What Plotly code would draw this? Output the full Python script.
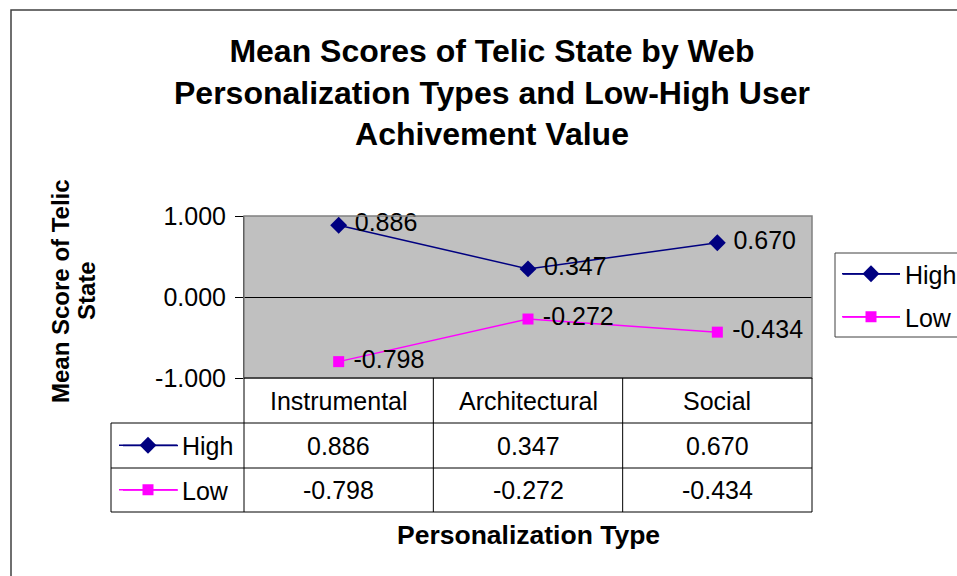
import plotly.graph_objects as go

# ---- data ----
categories = ["Instrumental", "Architectural", "Social"]
series_names = ["High", "Low"]
high_values = [0.886, 0.347, 0.670]
low_values = [-0.798, -0.272, -0.434]
y_tick_values = [-1.0, 0.0, 1.0]
y_tick_labels = ["-1.000", "0.000", "1.000"]
title_lines = ["Mean Scores of Telic State by Web",
               "Personalization Types and Low-High User",
               "Achivement Value"]
x_title = "Personalization Type"
y_title_lines = ["Mean Score of Telic", "State"]

W, H = 957, 576
FONT = "Liberation Sans, Arial, Helvetica, sans-serif"
TXT = 25


def px(x):
    return x / W


def py(y):
    return 1 - y / H


colors = {"High": "#000080", "Low": "#FF00FF"}
symbols = {"High": "diamond", "Low": "square"}
msize = {"High": 13, "Low": 11}
values = {"High": high_values, "Low": low_values}
legend_ids = {"High": ("legend", "legend3"), "Low": ("legend2", "legend4")}

# layout geometry (pixels)
PL, PR, PT, PB = 244, 812, 216, 378
ROW_Y = [423, 468, 512]
KEY_LEFT = 111
RIGHT_LEG_Y = {"High": 274, "Low": 317}
TABLE_ROW_CENTERS = [(PB + ROW_Y[0]) / 2, (ROW_Y[0] + ROW_Y[1]) / 2, (ROW_Y[1] + ROW_Y[2]) / 2]
TABLE_LEG_Y = {"High": TABLE_ROW_CENTERS[1], "Low": TABLE_ROW_CENTERS[2]}

fig = go.Figure()
for name in series_names:
    fig.add_trace(go.Scatter(
        x=categories, y=values[name], name=name,
        mode="lines+markers+text",
        line=dict(color=colors[name], width=1.5),
        marker=dict(symbol=symbols[name], size=msize[name], color=colors[name]),
        text=["\u00a0" + f"{v:.3f}" for v in values[name]],
        textposition="middle right",
        textfont=dict(family=FONT, size=TXT, color="black"),
        cliponaxis=False,
        legend=legend_ids[name][0],
        xaxis="x", yaxis="y",
    ))
for name in series_names:
    # legend keys shown inside the data table
    fig.add_trace(go.Scatter(
        x=[None], y=[None], name=name, mode="lines+markers",
        line=dict(color=colors[name], width=1.5),
        marker=dict(symbol=symbols[name], size=msize[name], color=colors[name]),
        legend=legend_ids[name][1],
    ))

shapes = []
# outer chart border
shapes.append(dict(type="rect", xref="paper", yref="paper",
                   x0=px(11), y0=py(10), x1=1.05, y1=-0.05,
                   line=dict(color="#404040", width=1.5)))
# plot area border
shapes.append(dict(type="rect", xref="paper", yref="paper",
                   x0=px(PL), x1=px(PR), y0=py(PT), y1=py(PB),
                   line=dict(color="#808080", width=1.5)))
# table grid
ncat = len(categories)
col_edges = [PL + (PR - PL) * i / ncat for i in range(ncat + 1)]
for cx in col_edges:
    shapes.append(dict(type="line", xref="paper", yref="paper",
                       x0=px(cx), x1=px(cx), y0=py(PB), y1=py(ROW_Y[-1]),
                       line=dict(color="black", width=1)))
shapes.append(dict(type="line", xref="paper", yref="paper",
                   x0=px(KEY_LEFT), x1=px(KEY_LEFT), y0=py(ROW_Y[0]), y1=py(ROW_Y[-1]),
                   line=dict(color="black", width=1)))
shapes.append(dict(type="line", xref="paper", yref="paper",
                   x0=px(PL), x1=px(PR), y0=py(PB), y1=py(PB),
                   line=dict(color="black", width=1)))
for ry in ROW_Y:
    shapes.append(dict(type="line", xref="paper", yref="paper",
                       x0=px(KEY_LEFT), x1=px(PR), y0=py(ry), y1=py(ry),
                       line=dict(color="black", width=1)))
# legend box on the right
shapes.append(dict(type="rect", xref="paper", yref="paper",
                   x0=px(835), x1=1.05, y0=py(253), y1=py(337),
                   line=dict(color="#404040", width=1)))
# longer legend key lines (Excel style)
for name in series_names:
    for (x0, x1), yy in (((843, 900), RIGHT_LEG_Y[name]), ((123, 178), TABLE_LEG_Y[name])):
        shapes.append(dict(type="line", xref="paper", yref="paper",
                           x0=px(x0), x1=px(x1), y0=py(yy), y1=py(yy),
                           line=dict(color=colors[name], width=1.5)))

annotations = []
annotations.append(dict(xref="paper", yref="paper", x=px(492), y=py(92),
                        text="<br>".join(f"<b>{t}</b>" for t in title_lines),
                        showarrow=False, xanchor="center", yanchor="middle",
                        font=dict(family=FONT, size=32, color="black")))
for lx, line in zip([60, 86], y_title_lines):
    annotations.append(dict(xref="paper", yref="paper", x=px(lx), y=py(291),
                            text=f"<b>{line}</b>", textangle=-90, showarrow=False,
                            xanchor="center", yanchor="middle",
                            font=dict(family=FONT, size=24, color="black")))
annotations.append(dict(xref="paper", yref="paper", x=px(528), y=py(535),
                        text=f"<b>{x_title}</b>", showarrow=False,
                        xanchor="center", yanchor="middle",
                        font=dict(family=FONT, size=26.5, color="black")))
# table cells
for c in categories:
    annotations.append(dict(xref="x", yref="paper", x=c, y=py(TABLE_ROW_CENTERS[0]),
                            text=c, showarrow=False, xanchor="center", yanchor="middle",
                            font=dict(family=FONT, size=TXT, color="black")))
for ri, name in enumerate(series_names):
    for c, v in zip(categories, values[name]):
        annotations.append(dict(xref="x", yref="paper", x=c, y=py(TABLE_ROW_CENTERS[ri + 1]),
                                text=f"{v:.3f}", showarrow=False,
                                xanchor="center", yanchor="middle",
                                font=dict(family=FONT, size=TXT, color="black")))

leg_common = dict(font=dict(family=FONT, size=TXT, color="black"),
                  bgcolor="rgba(0,0,0,0)", borderwidth=0, itemwidth=58,
                  xanchor="left", yanchor="middle")

fig.update_layout(
    width=W, height=H, autosize=False,
    margin=dict(l=0, r=0, t=0, b=0, autoexpand=False),
    paper_bgcolor="white", plot_bgcolor="#C0C0C0",
    font=dict(family=FONT, size=TXT, color="black"),
    xaxis=dict(domain=[px(PL), px(PR)], type="category",
               categoryorder="array", categoryarray=categories,
               range=[-0.5, len(categories) - 0.5],
               showticklabels=False, showgrid=False, zeroline=False,
               showline=False, ticks="", fixedrange=True),
    yaxis=dict(domain=[py(PB), py(PT)], range=[-1, 1],
               tickvals=y_tick_values, ticktext=y_tick_labels,
               showgrid=False, zeroline=True, zerolinecolor="black", zerolinewidth=1,
               showline=True, linecolor="black", linewidth=1,
               ticks="outside", ticklen=8, tickcolor="black",
               ticklabelstandoff=4,
               tickfont=dict(family=FONT, size=TXT, color="black"),
               fixedrange=True),
    shapes=shapes,
    annotations=annotations,
    legend=dict(x=px(837), y=py(RIGHT_LEG_Y["High"]), **leg_common),
    legend2=dict(x=px(837), y=py(RIGHT_LEG_Y["Low"]), **leg_common),
    legend3=dict(x=px(114), y=py(TABLE_LEG_Y["High"]), **leg_common),
    legend4=dict(x=px(114), y=py(TABLE_LEG_Y["Low"]), **leg_common),
    showlegend=True,
)

fig.write_html("out.html", config={"displayModeBar": False},
               post_script="document.body.style.margin='0';")
